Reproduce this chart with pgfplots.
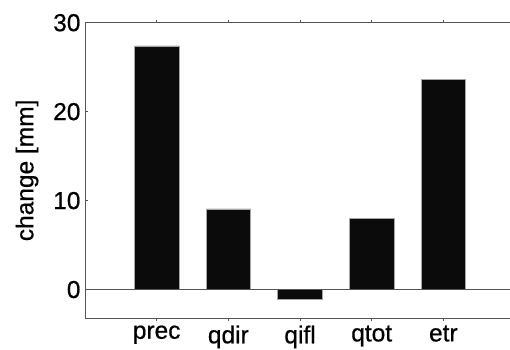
\documentclass[border=0pt]{standalone}
\usepackage{pgfplots}
\pgfplotsset{compat=1.18}
\usepackage{fontspec}
\setmainfont{Liberation Sans}
\newfontfamily\lblfont{Liberation Sans}[FakeBold=0.6]
\definecolor{barfill}{HTML}{0B0B0B}
\definecolor{axgray}{HTML}{555555}
\begin{document}
\begin{tikzpicture}
\begin{axis}[
  at={(0,0)}, anchor=south west,
  scale only axis,
  width=425pt, height=295.3pt,
  xmin=0, xmax=5.93,
  ymin=-3.2, ymax=30,
  axis x line=box, axis y line=left,
  axis line style={axgray, line width=0.9pt, -},
  xtick={1,2,3,4,5},
  xticklabels={prec,qdir,qifl,qtot,etr},
  ytick={0,10,20,30},
  tick align=inside,
  major tick length=3pt,
  tick style={axgray, line width=0.9pt},
  xtick pos=both,
  ytick pos=left,
  /pgf/number format/assume math mode=true,
  ticklabel style={font=\lblfont\fontsize{24.5}{27}\selectfont},
  xticklabel style={yshift=-1pt},
  yticklabel style={xshift=-1pt},
  every axis y label/.style={at={(-58pt,0.5)}, rotate=90, anchor=center, font=\lblfont\fontsize{24.5}{27}\selectfont},
  ylabel={change [mm]},
  ybar, bar width=0.62, bar shift=0pt,
  clip=false,
]
\addplot[fill=barfill, draw=gray!70, line width=0.6pt] coordinates {
  (1,27.4) (2,9.06) (3,-1.13) (4,8.0) (5,23.6)
};
\draw[axgray, line width=0.9pt] (axis cs:0,0) -- (axis cs:5.93,0);
\end{axis}
\pgfresetboundingbox
\path[use as bounding box] (-85pt,-31pt) rectangle (425pt,318pt);
\end{tikzpicture}
\end{document}
